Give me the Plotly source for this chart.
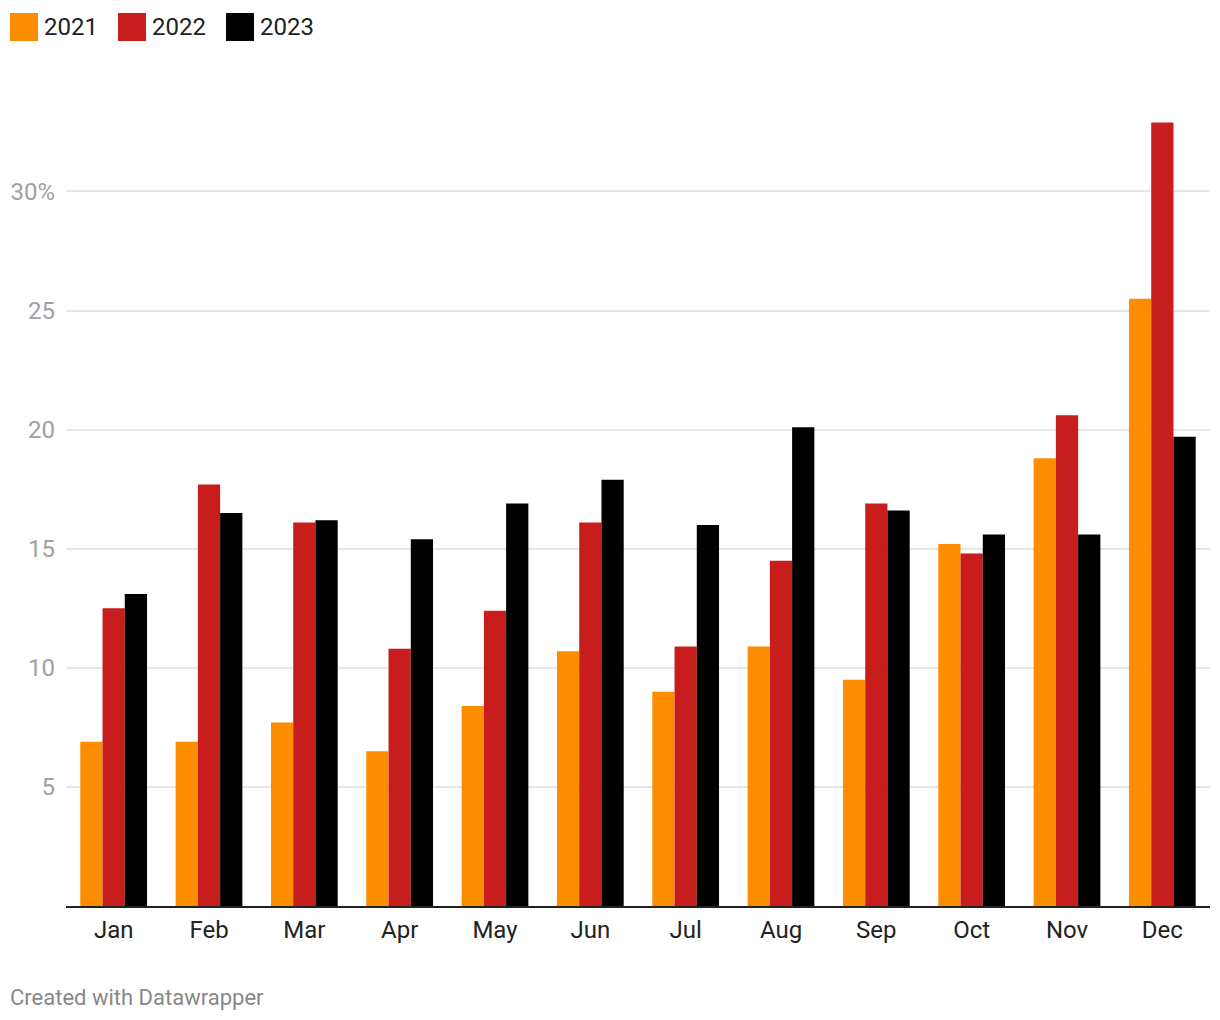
import plotly.graph_objects as go

months = ["Jan", "Feb", "Mar", "Apr", "May", "Jun", "Jul", "Aug", "Sep", "Oct", "Nov", "Dec"]
v2021 = [6.9, 6.9, 7.7, 6.5, 8.4, 10.7, 9.0, 10.9, 9.5, 15.2, 18.8, 25.5]
v2022 = [12.5, 17.7, 16.1, 10.8, 12.4, 16.1, 10.9, 14.5, 16.9, 14.8, 20.6, 32.9]
v2023 = [13.1, 16.5, 16.2, 15.4, 16.9, 17.9, 16.0, 20.1, 16.6, 15.6, 15.6, 19.7]
series_names = ["2021", "2022", "2023"]
series_colors = ["#fc8c00", "#c71e1d", "#000000"]
tick_vals = [5, 10, 15, 20, 25, 30]
tick_text = ["5", "10", "15", "20", "25", "30%"]

FONT = "Roboto"

fig = go.Figure()
for name, vals, col in zip(series_names, [v2021, v2022, v2023], series_colors):
    fig.add_trace(go.Bar(x=months, y=vals, name=name, marker=dict(color=col, line=dict(width=0)),
                         showlegend=False))

# manual legend
shapes = []
annotations = []
offsets = [-56, 52, 160]
for i, (name, col) in enumerate(zip(series_names, series_colors)):
    off = offsets[i]
    shapes.append(dict(type="rect", xref="paper", yref="paper", xsizemode="pixel", ysizemode="pixel",
                       xanchor=0, yanchor=1, x0=off, x1=off + 28, y0=79, y1=107,
                       fillcolor=col, line=dict(width=0)))
    annotations.append(dict(text=name, xref="paper", yref="paper", x=0, y=1, xanchor="left",
                            yanchor="middle", xshift=off + 32, yshift=93, showarrow=False,
                            font=dict(family=FONT, size=24, color="#222222")))

annotations.append(dict(text="Created with Datawrapper", xref="paper", yref="paper", x=0, y=0,
                        xanchor="left", yanchor="middle", xshift=-58, yshift=-91, showarrow=False,
                        font=dict(family=FONT, size=22, color="#888888")))

fig.update_layout(
    width=1212, height=1012,
    margin=dict(l=58, r=10, t=112, b=114, autoexpand=False),
    paper_bgcolor="white", plot_bgcolor="white",
    barmode="group", bargap=0.3, bargroupgap=0,
    font=dict(family=FONT),
    shapes=shapes, annotations=annotations,
    xaxis=dict(showgrid=False, showline=True, linecolor="#222222", linewidth=2,
               ticks="", tickfont=dict(family=FONT, size=24, color="#222222"), ticklabelstandoff=1,
               fixedrange=True, automargin=False),
    yaxis=dict(range=[0, 33], tickvals=tick_vals, ticktext=tick_text, showgrid=True,
               gridcolor="#e6e6e6", gridwidth=2, zeroline=False, showline=False, ticks="",
               tickfont=dict(family=FONT, size=24, color="#a0a0a0"), ticklabelstandoff=10,
               fixedrange=True, automargin=False),
)

fig.write_html("out.html")
